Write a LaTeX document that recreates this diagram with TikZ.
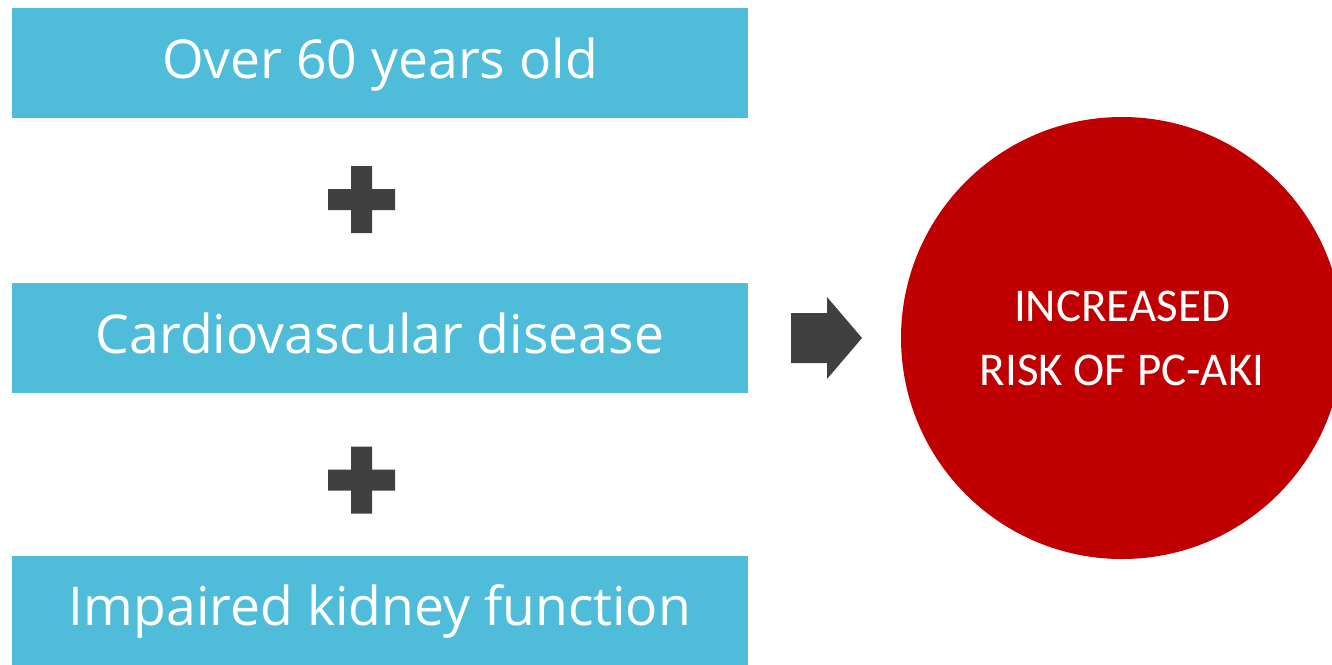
\documentclass[tikz,border=0pt]{standalone}
\usepackage{fontspec}
\setmainfont{Open Sans}
\newfontfamily\circfont{Carlito}
\definecolor{boxblue}{RGB}{79,189,218}
\definecolor{riskred}{RGB}{192,0,0}
\definecolor{darkgrey}{RGB}{64,64,64}
\begin{document}
\begin{tikzpicture}[x=1pt,y=-1pt,
  factor/.style={fill=boxblue,draw=none,minimum width=736pt,minimum height=110pt,inner sep=0pt,
    text height=30pt,text depth=0pt,
    text=white,font=\fontsize{53.5}{60}\selectfont},
  sign/.style={fill=darkgrey,draw=none}]
\useasboundingbox (0,0) rectangle (1332,664);
\clip (0,0) rectangle (1332,664);
\fill[white] (0,0) rectangle (1332,664);
\node[factor] (age) at (380,63) {Over 60 years old};
\node[factor] (cvd) at (380,338) {Cardiovascular disease};
\node[factor] (kid) at (380,610.5) {Impaired kidney function};
% plus signs
\coordinate (p1) at (361.5,199.5);
\coordinate (p2) at (361.5,480);
\foreach \p in {p1,p2}{
  \fill[sign] ([shift={(-10.5,-33.5)}]\p) -- ++(21,0) -- ++(0,23) -- ++(23,0) -- ++(0,21) -- ++(-23,0)
    -- ++(0,23) -- ++(-21,0) -- ++(0,-23) -- ++(-23,0) -- ++(0,-21) -- ++(23,0) -- cycle;
}
% arrow
\coordinate (ar) at (791,338);
\fill[sign] ([shift={(0,-25)}]ar) -- ++(36,0) -- ++(0,-16) -- ++(35,41) -- ++(-35,41) -- ++(0,-16) -- ++(-36,0) -- cycle;
% circle
\node[circle,fill=riskred,draw=none,minimum size=442pt,inner sep=0pt,text=white,
  align=center,font=\circfont\fontsize{47}{64}\selectfont] (risk) at (1122,338)
  {INCREASED\\RISK OF PC-AKI};
\end{tikzpicture}
\end{document}
